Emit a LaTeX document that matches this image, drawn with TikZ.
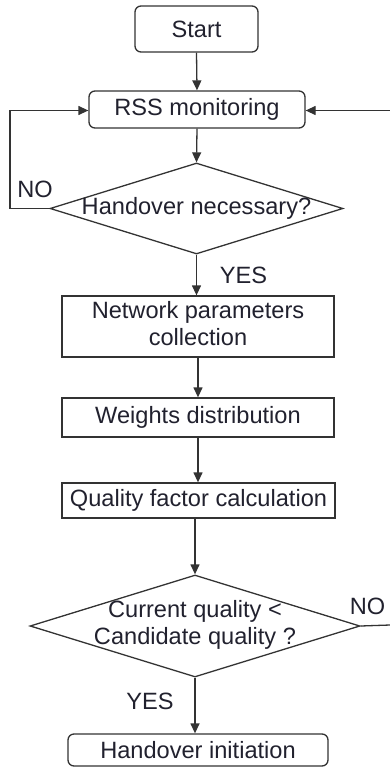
\documentclass[tikz,border=0pt]{standalone}
\usepackage{fontspec}
\setmainfont{Liberation Sans}
\usetikzlibrary{arrows.meta,shapes.geometric}
\definecolor{ink}{rgb}{0.13,0.13,0.18}
\definecolor{linec}{rgb}{0.2,0.2,0.2}
\begin{document}
\begin{tikzpicture}[x=1pt,y=-1pt,
  every node/.style={font=\fontsize{23.6}{27}\selectfont, text=ink},
  rbox/.style={draw=linec, line width=1.3pt, rounded corners=6pt, inner sep=0pt},
  sbox/.style={draw=linec, line width=1.3pt, inner sep=0pt},
  dbox/.style={draw=linec, line width=1.3pt, shape=diamond, inner sep=0pt},
  lbl/.style={inner sep=0pt},
  conn/.style={draw=linec, line width=1.3pt, -{Triangle[length=10pt,width=9pt]}},
  plain/.style={draw=linec, line width=1.3pt}]
\useasboundingbox (0,0) rectangle (390,767);
\node[rbox, minimum width=123, minimum height=46] (start) at (196.5,29) {Start};
\node[rbox, minimum width=216, minimum height=37] (rss) at (197,109.5) {RSS monitoring};
\node[dbox, minimum width=293, minimum height=91] (d1) at (196.5,208.5) {\makebox[0pt]{Handover necessary?}};
\node[sbox, minimum width=272, minimum height=61] (npc) at (198,326.5) {\begin{tabular}{@{}c@{}}Network parameters\\collection\end{tabular}};
\node[sbox, minimum width=272, minimum height=39] (wd) at (198,417.5) {Weights distribution};
\node[sbox, minimum width=273, minimum height=35] (qfc) at (198.5,500.5) {\makebox[0pt]{Quality factor calculation}};
\node[dbox, minimum width=330, minimum height=102] (d2) at (195,626) {\makebox[0pt]{\begin{tabular}{@{}c@{}}Current quality <\\Candidate quality ?\end{tabular}}};
\node[rbox, minimum width=260, minimum height=32] (hi) at (198,750) {Handover initiation};
\node[lbl] (no1) at (35,189.5) {NO};
\node[lbl] (yes1) at (243.5,275) {YES};
\node[lbl] (no2) at (367.5,606.5) {NO};
\node[lbl] (yes2) at (150,701.5) {YES};
\coordinate (lc) at (10,208.5);
\coordinate (lt) at (10,110.5);
\coordinate (rin) at (390,110.5);
\coordinate (rout) at (390,625);
\draw[conn] (start.south) -- (rss.north);
\draw[conn] (rss.south) -- (d1.north);
\draw[conn] (d1.west) -- (lc) -- (lt) -- (rss.west |- lt);
\draw[conn] (rin) -- (rss.east |- rin);
\draw[conn] (d1.south) -- (npc.north -| d1.south);
\draw[conn] (npc.south) -- (wd.north);
\draw[conn] (wd.south) -- (qfc.north -| wd.south);
\draw[conn] (qfc.south -| d2.north) -- (d2.north);
\draw[plain] (d2.east) -- (rout);
\draw[conn] (d2.south) -- (hi.north -| d2.south);
\end{tikzpicture}
\end{document}
